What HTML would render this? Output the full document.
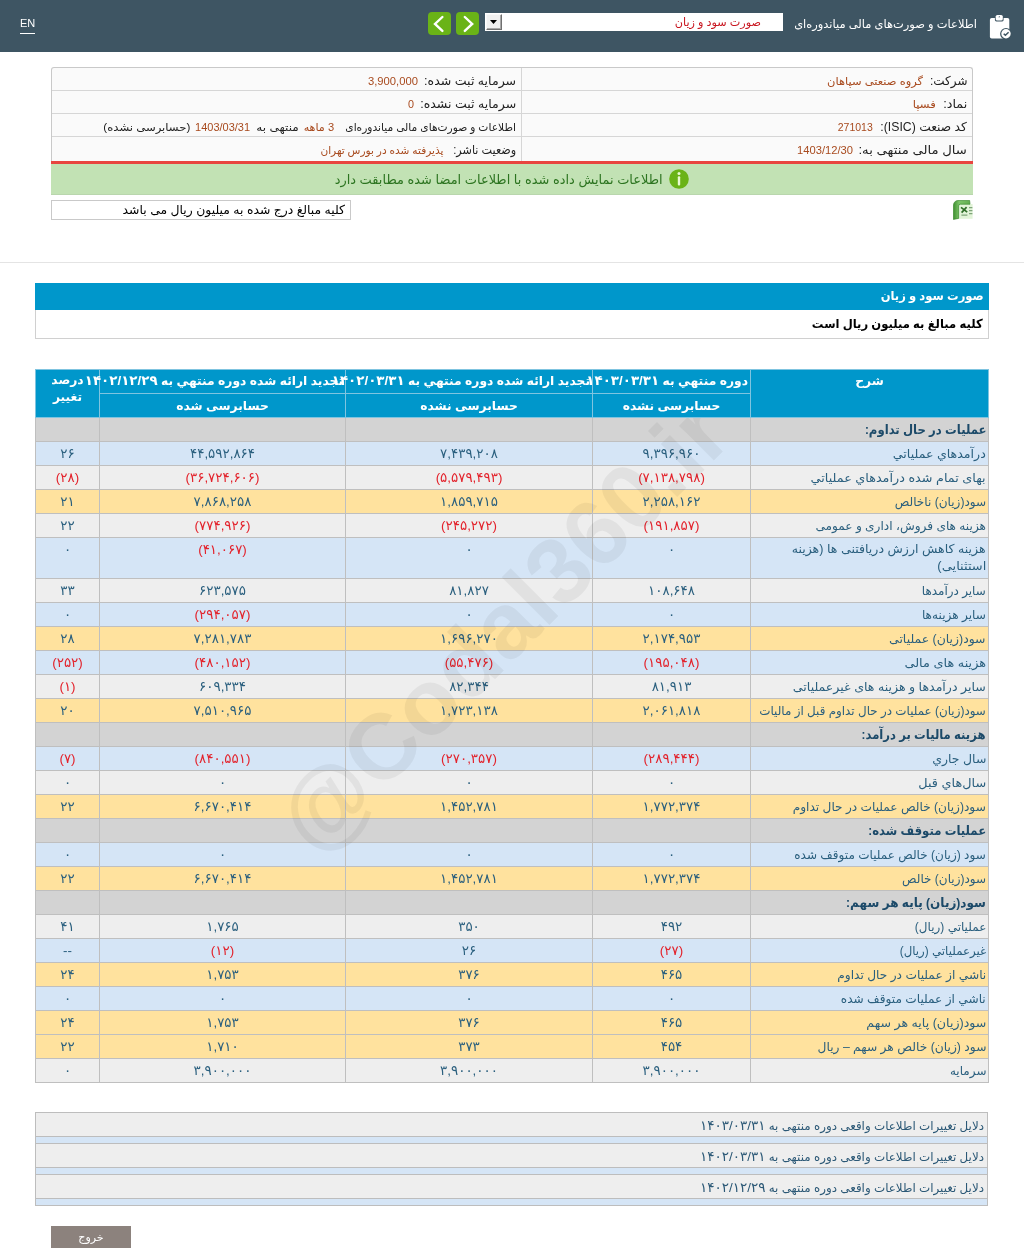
<!DOCTYPE html>
<html lang="fa" dir="rtl">
<head>
<meta charset="utf-8">
<title>صورت سود و زیان</title>
<style>
*{box-sizing:border-box;}
html,body{margin:0;padding:0;background:#fff;}
body{width:1024px;height:1248px;overflow:hidden;position:relative;direction:rtl;
 font-family:"Liberation Sans","DejaVu Sans",sans-serif;font-size:11px;color:#000;}
.abs{position:absolute;}
#top{left:0;top:0;width:1024px;height:52px;background:#3e5563;}
#top .ttl{right:47px;top:15px;color:#fff;font-size:11.45px;line-height:18px;white-space:nowrap;}
#sel{left:485px;top:13px;width:298px;height:18px;background:#fff;}
#sel .txt{right:22px;top:0;line-height:19px;font-size:11.2px;color:#c8141e;white-space:nowrap;}
#sel .btn{left:1px;top:1px;width:16px;height:16px;background:#f0f0f0;border:1px solid;border-color:#f8f8f8 #707070 #707070 #f8f8f8;box-shadow:inset -1px -1px 0 #a8a8a8;}
#sel .btn svg{position:absolute;left:0;top:0;}
.gbtn{top:12px;width:23px;height:23px;border-radius:4px;background:#6ab317;}
.gbtn svg{display:block;}
.en{left:20px;top:16px;color:#fff;font-size:11px;line-height:15px;font-family:"Liberation Sans","DejaVu Sans",sans-serif;border-bottom:1px solid #fff;padding-bottom:2px;direction:ltr;}
#info{left:51px;top:67px;width:922px;height:95px;border:1px solid #c9c9c9;border-bottom:0;border-radius:3px 3px 0 0;background:#fafafa;}
#info .row{position:absolute;left:0;width:920px;height:23px;border-bottom:1px solid #d6d6d6;}
#info .vd{position:absolute;left:469px;top:0;width:1px;height:93px;background:#d6d6d6;}
.s11{font-size:11px !important;}
.lbl{font-size:12.3px;color:#222;white-space:nowrap;}
.val{font-size:11px;color:#a84a1e;white-space:nowrap;}
.cell{margin-right:1px;position:absolute;top:1px;height:23px;line-height:24px;white-space:nowrap;transform-origin:100% 50%;}
#red{left:51px;top:161px;width:922px;height:3px;background:#e8453f;}
#green{left:51px;top:164px;width:922px;height:31px;background:#c2e2b4;border-bottom:1px solid #b9d6ad;}
#green .t{position:absolute;right:310px;top:0;line-height:32px;color:#2c7420;font-size:13px;white-space:nowrap;transform-origin:100% 50%;}
#note{left:51px;top:200px;width:300px;height:20px;border:1px solid #c9c9c9;background:#fff;font-size:12.4px;line-height:19px;padding-right:5px;white-space:nowrap;color:#000;}
#hr{left:0;top:262px;width:1024px;height:1px;background:#e4e4e4;}
#sec{left:35px;top:283px;width:954px;height:27px;background:#0097cb;color:#fff;font-weight:bold;font-size:12.4px;line-height:27px;padding-right:5px;}
#sec2{left:35px;top:310px;width:954px;height:29px;border:1px solid #d0d0d0;border-top:0;background:#fff;color:#000;font-weight:bold;font-size:12.4px;line-height:29px;padding-right:5px;}
table{border-collapse:collapse;table-layout:fixed;}
#tbl{left:35px;top:369px;width:953px;}
#tbl td,#tbl th{border:1px solid #bfbfbf;padding:0 3px;height:24px;font-size:13.4px;color:#2a5f7e;text-align:center;vertical-align:middle;overflow:visible;}
#tbl th{background:#0097cb;color:#fff;font-weight:bold;font-size:12.3px;padding:0 2px;white-space:nowrap;border-color:#7fc4e0;}
#tbl td.d{text-align:right;font-size:12.3px;white-space:nowrap;padding-right:2px;}
.f{display:inline-block;transform-origin:100% 50%;white-space:nowrap;}
.fc{display:inline-block;transform-origin:50% 50%;white-space:nowrap;}
#tbl tr.dbl td{height:41px;vertical-align:top;padding-top:3px;line-height:17px;}
#tbl tr.h1 th{vertical-align:top;height:24px;line-height:22px;}
#tbl tr.h1 th.pc{line-height:17px;padding-top:2px;}
#tbl tr.h2 th{height:24px;}
#tbl th .fd{font-size:13.4px;}
#btm .fd{font-size:13.5px;}
#tbl tr.g td{background:#d3d3d3;font-weight:bold;font-size:13px;color:#1c4a69;}
#tbl tr.b td{background:#d5e5f6;}
#tbl tr.e td{background:#eeeeee;}
#tbl tr.y td{background:#ffe29e;}
#tbl td.n{color:#e3222b;}
#wmc{left:0;top:418px;width:1024px;height:700px;overflow:hidden;pointer-events:none;}
#wm{left:503px;top:208px;width:0;height:0;}
#wm span{position:absolute;left:-400px;width:800px;top:-60px;height:120px;line-height:120px;text-align:center;font-family:"Liberation Sans",sans-serif;font-weight:bold;font-size:93px;color:rgba(0,0,0,0.052);transform:rotate(-45deg);direction:ltr;white-space:nowrap;}
#btm{left:35px;top:1112px;width:953px;}
#btm td{border:1px solid #bdbdbd;padding:0 3px;font-size:11.9px;color:#2b5876;text-align:right;}
#btm tr.a td{height:24px;background:#eeeeee;}
#btm tr.s td{height:7px;background:#d5e5f6;}
#exit{left:51px;top:1226px;width:80px;height:30px;background:#8c827d;color:#fff;font-size:11px;text-align:center;line-height:22px;}
</style>
</head>
<body>
<div id="top" class="abs">
 <div class="ttl abs">اطلاعات و صورت‌های مالی میاندوره‌ای</div>
 <div id="sel" class="abs"><div class="txt abs">صورت سود و زیان</div><div class="btn abs"><svg width="14" height="14" viewBox="0 0 14 14"><path d="M3 5 L10 5 L6.5 9 Z" fill="#000"/></svg></div></div>
 <div class="gbtn abs" style="left:456px"><svg width="23" height="23" viewBox="0 0 23 23"><path d="M8.8 5 L16.2 12 L8.8 18.9" fill="none" stroke="#fff" stroke-width="2.4" stroke-linecap="round" stroke-linejoin="miter"/></svg></div>
 <div class="gbtn abs" style="left:428px"><svg width="23" height="23" viewBox="0 0 23 23"><path d="M14.4 5 L7 12 L14.4 18.9" fill="none" stroke="#fff" stroke-width="2.4" stroke-linecap="round" stroke-linejoin="miter"/></svg></div>
 <svg class="abs" style="left:986px;top:12px" width="30" height="30" viewBox="0 0 30 30">
  <rect x="3.9" y="5.9" width="19.4" height="20.6" rx="1.8" fill="#fff"/>
  <path d="M8.9 5.9 L8.9 8 Q8.9 9.4 10.3 9.4 L16.2 9.4 Q17.6 9.4 17.6 8 L17.6 5.9 Z" fill="#3e5562"/>
  <rect x="9.7" y="2.9" width="7.1" height="5.7" rx="1.7" fill="#fff"/>
  <path d="M12.4 5.2 L13.3 3.9 L14.2 5.2 Z" fill="#3e5562"/>
  <circle cx="20" cy="21.8" r="5.9" fill="#3e5562"/>
  <circle cx="20" cy="21.8" r="4.7" fill="#fff"/>
  <path d="M17.7 21.7 L19.4 23.3 L22.6 20.3" fill="none" stroke="#3e5562" stroke-width="1.5"/>
 </svg>
 <div class="en abs">EN</div>
</div>
<div id="info" class="abs">
 <div class="vd"></div>
 <div class="row" style="top:0">
  <span class="cell lbl" style="right:4px;transform:scaleX(0.976)">شرکت:</span><span class="cell val" style="right:48px;transform:scaleX(1.043)">گروه صنعتی سپاهان</span>
  <span class="cell lbl" style="right:455px;transform:scaleX(1.021)">سرمایه ثبت شده:</span><span class="cell val num" style="right:553px;transform:scaleX(1.022)">3,900,000</span>
 </div>
 <div class="row" style="top:23px">
  <span class="cell lbl" style="right:4px;transform:scaleX(1.036)">نماد:</span><span class="cell val" style="right:35px;transform:scaleX(1.057)">فسپا</span>
  <span class="cell lbl" style="right:455px;transform:scaleX(1.019)">سرمایه ثبت نشده:</span><span class="cell val num" style="right:557px;transform:scaleX(0.980)">0</span>
 </div>
 <div class="row" style="top:46px">
  <span class="cell lbl" style="right:4px;transform:scaleX(0.996)">کد صنعت (ISIC):</span><span class="cell val num" style="right:98px;transform:scaleX(0.953)">271013</span>
  <span class="cell lbl s11" style="right:455px;transform:scaleX(0.970)">اطلاعات و صورت‌های مالی میاندوره‌ای</span><span class="cell val" style="right:637px;transform:scaleX(1.012)">3 ماهه</span><span class="cell lbl s11" style="right:672px;transform:scaleX(1.095)">منتهی به</span><span class="cell val num" style="right:721px;transform:scaleX(0.999)">1403/03/31</span><span class="cell lbl s11" style="right:781px;transform:scaleX(1.057)">(حسابرسی نشده)</span>
 </div>
 <div class="row" style="top:69px;border-bottom:0">
  <span class="cell lbl" style="right:4px;transform:scaleX(1.075)">سال مالی منتهی به:</span><span class="cell val num" style="right:118px;transform:scaleX(1.017)">1403/12/30</span>
  <span class="cell lbl" style="right:455px;transform:scaleX(0.910)">وضعیت ناشر:</span><span class="cell val" style="right:528px;transform:scaleX(0.958)">پذیرفته شده در بورس تهران</span>
 </div>
</div>
<div id="red" class="abs"></div>
<div id="green" class="abs"><svg class="abs" style="left:618px;top:5px" width="20" height="20" viewBox="0 0 20 20"><circle cx="10" cy="10" r="9.8" fill="#6ab317"/><rect x="8.8" y="7.2" width="2.4" height="9.4" rx="1" fill="#e9f9d0"/><circle cx="10" cy="4.6" r="1.5" fill="#e9f9d0"/></svg><div class="t" style="transform:scaleX(0.995)">اطلاعات نمایش داده شده با اطلاعات امضا شده مطابقت دارد</div></div>
<svg class="abs" style="left:953px;top:200px" width="20" height="20" viewBox="0 0 20 20">
 <defs><linearGradient id="xg" x1="0" y1="0" x2="1" y2="0"><stop offset="0" stop-color="#3f8f30"/><stop offset="0.35" stop-color="#7cc468"/><stop offset="1" stop-color="#62ad50"/></linearGradient></defs>
 <rect x="5" y="4" width="14.6" height="14.8" fill="#e2f4d8"/>
 <path d="M0.4 19.4 L0.4 6 Q0.4 0.4 6 0.4 L16.6 0.4 L17 4.2 L7.4 4.2 Q5.6 4.2 5.6 6 L5.6 18.4 Z" fill="url(#xg)" stroke="#3a8a2c" stroke-width="0.7"/>
 <path d="M8 7.4 L14.2 12.2 M13.6 7.2 L8.6 12.6" stroke="#2f6e28" stroke-width="1.7" fill="none"/>
 <path d="M16 7.6h3.4M16 10.6h3.4M16 13.6h3.4M8.4 15.2h6" stroke="#7fa57a" stroke-width="1.3"/>
</svg>
<div id="note" class="abs">کلیه مبالغ درج شده به میلیون ریال می باشد</div>
<div id="hr" class="abs"></div>
<div id="sec" class="abs"><span class="f" style="transform:scaleX(0.931)">صورت سود و زیان</span></div>
<div id="sec2" class="abs"><span class="f" style="transform:scaleX(0.935)">کلیه مبالغ به میلیون ریال است</span></div>
<table id="tbl" class="abs"><colgroup><col style="width:238px"><col style="width:158px"><col style="width:247px"><col style="width:246px"><col style="width:64px"></colgroup>
<tr class="h1"><th rowspan="2" class="sh">شرح</th><th>دوره منتهي به <span class="fd">۱۴۰۳/۰۳/۳۱</span></th><th>تجدید ارائه شده دوره منتهي به <span class="fd">۱۴۰۲/۰۳/۳۱</span></th><th>تجدید ارائه شده دوره منتهي به <span class="fd">۱۴۰۲/۱۲/۲۹</span></th><th rowspan="2" class="pc">درصد<br>تغییر</th></tr>
<tr class="h2"><th>حسابرسی نشده</th><th>حسابرسی نشده</th><th>حسابرسی شده</th></tr>
<tr class="g"><td class="d"><span class="f" style="transform:scaleX(0.897)">عملیات در حال تداوم:</span></td><td></td><td></td><td></td><td></td></tr>
<tr class="b"><td class="d"><span class="f" style="transform:scaleX(1.024)">درآمدهاي عملياتي</span></td><td>۹,۳۹۶,۹۶۰</td><td>۷,۴۳۹,۲۰۸</td><td>۴۴,۵۹۲,۸۶۴</td><td>۲۶</td></tr>
<tr class="e"><td class="d"><span class="f" style="transform:scaleX(1.038)">بهاى تمام شده درآمدهاي عملياتي</span></td><td class="n">(۷,۱۳۸,۷۹۸)</td><td class="n">(۵,۵۷۹,۴۹۳)</td><td class="n">(۳۶,۷۲۴,۶۰۶)</td><td class="n">(۲۸)</td></tr>
<tr class="y"><td class="d"><span class="f" style="transform:scaleX(0.982)">سود(زيان) ناخالص</span></td><td>۲,۲۵۸,۱۶۲</td><td>۱,۸۵۹,۷۱۵</td><td>۷,۸۶۸,۲۵۸</td><td>۲۱</td></tr>
<tr class="e"><td class="d"><span class="f" style="transform:scaleX(0.986)">هزينه هاى فروش، ادارى و عمومى</span></td><td class="n">(۱۹۱,۸۵۷)</td><td class="n">(۲۴۵,۲۷۲)</td><td class="n">(۷۷۴,۹۲۶)</td><td>۲۲</td></tr>
<tr class="b dbl"><td class="d"><span class="f" style="transform:scaleX(1.023)">هزینه کاهش ارزش دریافتنی ها (هزینه</span><br><span class="f" style="transform:scaleX(1.057)">استثنایی)</span></td><td>۰</td><td>۰</td><td class="n">(۴۱,۰۶۷)</td><td>۰</td></tr>
<tr class="e"><td class="d"><span class="f" style="transform:scaleX(0.973)">ساير درآمدها</span></td><td>۱۰۸,۶۴۸</td><td>۸۱,۸۲۷</td><td>۶۲۳,۵۷۵</td><td>۳۳</td></tr>
<tr class="b"><td class="d"><span class="f" style="transform:scaleX(0.986)">سایر هزینه‌ها</span></td><td>۰</td><td>۰</td><td class="n">(۲۹۴,۰۵۷)</td><td>۰</td></tr>
<tr class="y"><td class="d"><span class="f" style="transform:scaleX(1.010)">سود(زيان) عملياتى</span></td><td>۲,۱۷۴,۹۵۳</td><td>۱,۶۹۶,۲۷۰</td><td>۷,۲۸۱,۷۸۳</td><td>۲۸</td></tr>
<tr class="b"><td class="d"><span class="f" style="transform:scaleX(1.045)">هزينه هاى مالى</span></td><td class="n">(۱۹۵,۰۴۸)</td><td class="n">(۵۵,۴۷۶)</td><td class="n">(۴۸۰,۱۵۲)</td><td class="n">(۲۵۲)</td></tr>
<tr class="e"><td class="d"><span class="f" style="transform:scaleX(1.022)">ساير درآمدها و هزينه هاى غيرعملياتى</span></td><td>۸۱,۹۱۳</td><td>۸۲,۳۴۴</td><td>۶۰۹,۳۳۴</td><td class="n">(۱)</td></tr>
<tr class="y"><td class="d"><span class="f" style="transform:scaleX(0.969)">سود(زيان) عمليات در حال تداوم قبل از ماليات</span></td><td>۲,۰۶۱,۸۱۸</td><td>۱,۷۲۳,۱۳۸</td><td>۷,۵۱۰,۹۶۵</td><td>۲۰</td></tr>
<tr class="g"><td class="d"><span class="f" style="transform:scaleX(0.895)">هزينه ماليات بر درآمد:</span></td><td></td><td></td><td></td><td></td></tr>
<tr class="b"><td class="d"><span class="f" style="transform:scaleX(1.013)">سال جاري</span></td><td class="n">(۲۸۹,۴۴۴)</td><td class="n">(۲۷۰,۳۵۷)</td><td class="n">(۸۴۰,۵۵۱)</td><td class="n">(۷)</td></tr>
<tr class="e"><td class="d"><span class="f" style="transform:scaleX(1.043)">سال‌هاي قبل</span></td><td>۰</td><td>۰</td><td>۰</td><td>۰</td></tr>
<tr class="y"><td class="d"><span class="f" style="transform:scaleX(0.986)">سود(زيان) خالص عمليات در حال تداوم</span></td><td>۱,۷۷۲,۳۷۴</td><td>۱,۴۵۲,۷۸۱</td><td>۶,۶۷۰,۴۱۴</td><td>۲۲</td></tr>
<tr class="g"><td class="d"><span class="f" style="transform:scaleX(0.899)">عملیات متوقف شده:</span></td><td></td><td></td><td></td><td></td></tr>
<tr class="b"><td class="d"><span class="f" style="transform:scaleX(0.978)">سود (زيان) خالص عمليات متوقف شده</span></td><td>۰</td><td>۰</td><td>۰</td><td>۰</td></tr>
<tr class="y"><td class="d"><span class="f" style="transform:scaleX(0.976)">سود(زيان) خالص</span></td><td>۱,۷۷۲,۳۷۴</td><td>۱,۴۵۲,۷۸۱</td><td>۶,۶۷۰,۴۱۴</td><td>۲۲</td></tr>
<tr class="g"><td class="d"><span class="f" style="transform:scaleX(0.927)">سود(زيان) پايه هر سهم:</span></td><td></td><td></td><td></td><td></td></tr>
<tr class="e"><td class="d"><span class="f" style="transform:scaleX(0.975)">عملياتي (ريال)</span></td><td>۴۹۲</td><td>۳۵۰</td><td>۱,۷۶۵</td><td>۴۱</td></tr>
<tr class="b"><td class="d"><span class="f" style="transform:scaleX(0.959)">غيرعملياتي (ريال)</span></td><td class="n">(۲۷)</td><td>۲۶</td><td class="n">(۱۲)</td><td>--</td></tr>
<tr class="y"><td class="d"><span class="f" style="transform:scaleX(0.992)">ناشي از عمليات در حال تداوم</span></td><td>۴۶۵</td><td>۳۷۶</td><td>۱,۷۵۳</td><td>۲۴</td></tr>
<tr class="b"><td class="d"><span class="f" style="transform:scaleX(0.988)">ناشي از عمليات متوقف شده</span></td><td>۰</td><td>۰</td><td>۰</td><td>۰</td></tr>
<tr class="y"><td class="d"><span class="f" style="transform:scaleX(1.023)">سود(زيان) پايه هر سهم</span></td><td>۴۶۵</td><td>۳۷۶</td><td>۱,۷۵۳</td><td>۲۴</td></tr>
<tr class="y"><td class="d"><span class="f" style="transform:scaleX(0.997)">سود (زيان) خالص هر سهم – ريال</span></td><td>۴۵۴</td><td>۳۷۳</td><td>۱,۷۱۰</td><td>۲۲</td></tr>
<tr class="e"><td class="d"><span class="f" style="transform:scaleX(0.975)">سرمايه</span></td><td>۳,۹۰۰,۰۰۰</td><td>۳,۹۰۰,۰۰۰</td><td>۳,۹۰۰,۰۰۰</td><td>۰</td></tr>
</table>
<table id="btm" class="abs">
<tr class="a"><td>دلایل تغییرات اطلاعات واقعی دوره منتهی به <span class="fd">۱۴۰۳/۰۳/۳۱</span></td></tr><tr class="s"><td></td></tr>
<tr class="a"><td>دلایل تغییرات اطلاعات واقعی دوره منتهی به <span class="fd">۱۴۰۲/۰۳/۳۱</span></td></tr><tr class="s"><td></td></tr>
<tr class="a"><td>دلایل تغییرات اطلاعات واقعی دوره منتهی به <span class="fd">۱۴۰۲/۱۲/۲۹</span></td></tr><tr class="s"><td></td></tr>
</table>
<div id="exit" class="abs">خروج</div>
<div id="wmc" class="abs"><div id="wm" class="abs"><span>@Codal360.ir</span></div></div>
</body>
</html>
